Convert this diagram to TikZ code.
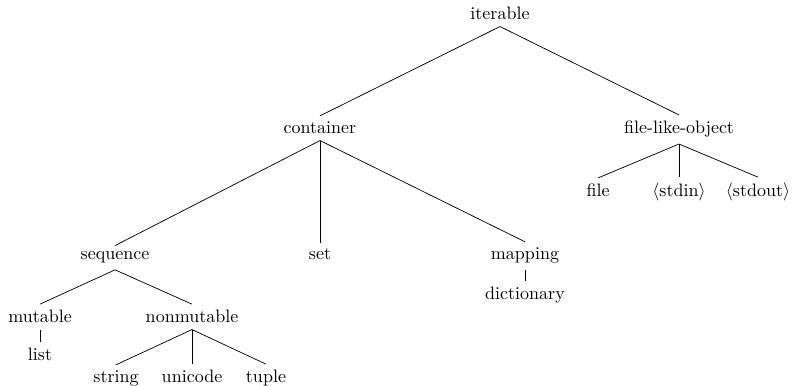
\documentclass[tikz,border=0pt]{standalone}
\usetikzlibrary{positioning}
\tikzset{
  term/.style={anchor=base,inner sep=3.33pt,font=\normalsize},
  branch/.style={draw=black,line width=0.4pt}
}
\begin{document}
\begin{tikzpicture}[x=0.5556pt,y=-0.5556pt]
  \useasboundingbox (0,0) rectangle (793,386);
  \node[term] (iter) at (500,20) {iterable};
  \node[term] (cont) at (320,134) {container};
  \node[term] (flo) at (679,134) {file-like-object};
  \node[term] (seq) at (115,260) {sequence};
  \node[term] (set) at (320,260) {set};
  \node[term] (map) at (525,260) {mapping};
  \node[term] (dict) at (525,300) {dictionary};
  \node[term] (mut) at (40,323) {mutable};
  \node[term] (list) at (40,361) {list};
  \node[term] (nmut) at (192,323) {nonmutable};
  \node[term] (str) at (116,383) {string};
  \node[term] (uni) at (192,383) {unicode};
  \node[term] (tup) at (266,383) {tuple};
  \node[term] (file) at (598,197) {file};
  \node[term] (sin) at (679,197) {$\langle$stdin$\rangle$};
  \node[term] (sout) at (758,197) {$\langle$stdout$\rangle$};
  % edges of the tree
  \foreach \p/\c in {iter/cont,iter/flo,cont/seq,cont/set,cont/map,map/dict,
    seq/mut,seq/nmut,mut/list,nmut/str,nmut/uni,nmut/tup,flo/file,flo/sin,flo/sout}
    \draw[branch] (\p.south)--(\c.north);
\end{tikzpicture}
\end{document}
